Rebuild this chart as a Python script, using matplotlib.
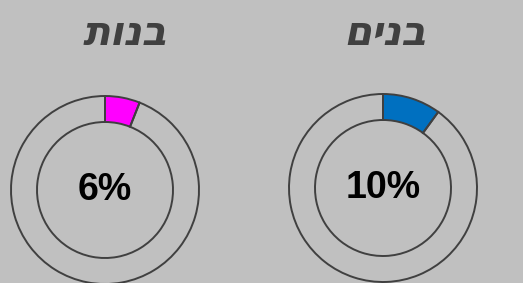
import matplotlib
matplotlib.use("Agg")
import matplotlib.pyplot as plt

# data
groups  = ["בנות", "בנים"]
pct     = [6, 10]
colors  = ["#ff00ff", "#0070c0"]

BG      = "#c0c0c0"
EDGE    = "#404040"

W, H = 523, 283
fig = plt.figure(figsize=(W / 100, H / 100), dpi=100, facecolor=BG)
ax = fig.add_axes([0, 0, 1, 1])
ax.set_facecolor(BG)

centers = [(105, 93), (383, 95)]
title_pos = [(125, 249), (385, 249)]
R_OUT, R_IN = 94, 68

for name, p, col, c, tp in zip(groups, pct, colors, centers, title_pos):
    ax.pie([p, 100 - p], colors=[col, "none"], startangle=90, counterclock=False,
           center=c, radius=R_OUT,
           wedgeprops=dict(width=R_OUT - R_IN, edgecolor=EDGE, linewidth=1.4))
    ax.text(c[0], c[1], f"{p}%", ha="center", va="center", fontsize=27,
            fontweight="bold", family="Liberation Sans", color="black")
    # matplotlib has no bidi, so reverse the Hebrew for display
    ax.text(tp[0], tp[1], name[::-1], ha="center", va="center", fontsize=29,
            fontweight="bold", style="italic", family="DejaVu Sans", color=EDGE)

ax.set_xlim(0, W)
ax.set_ylim(0, H)
ax.set_aspect("auto")
ax.axis("off")

fig.savefig("out.png", dpi=100, facecolor=BG)
